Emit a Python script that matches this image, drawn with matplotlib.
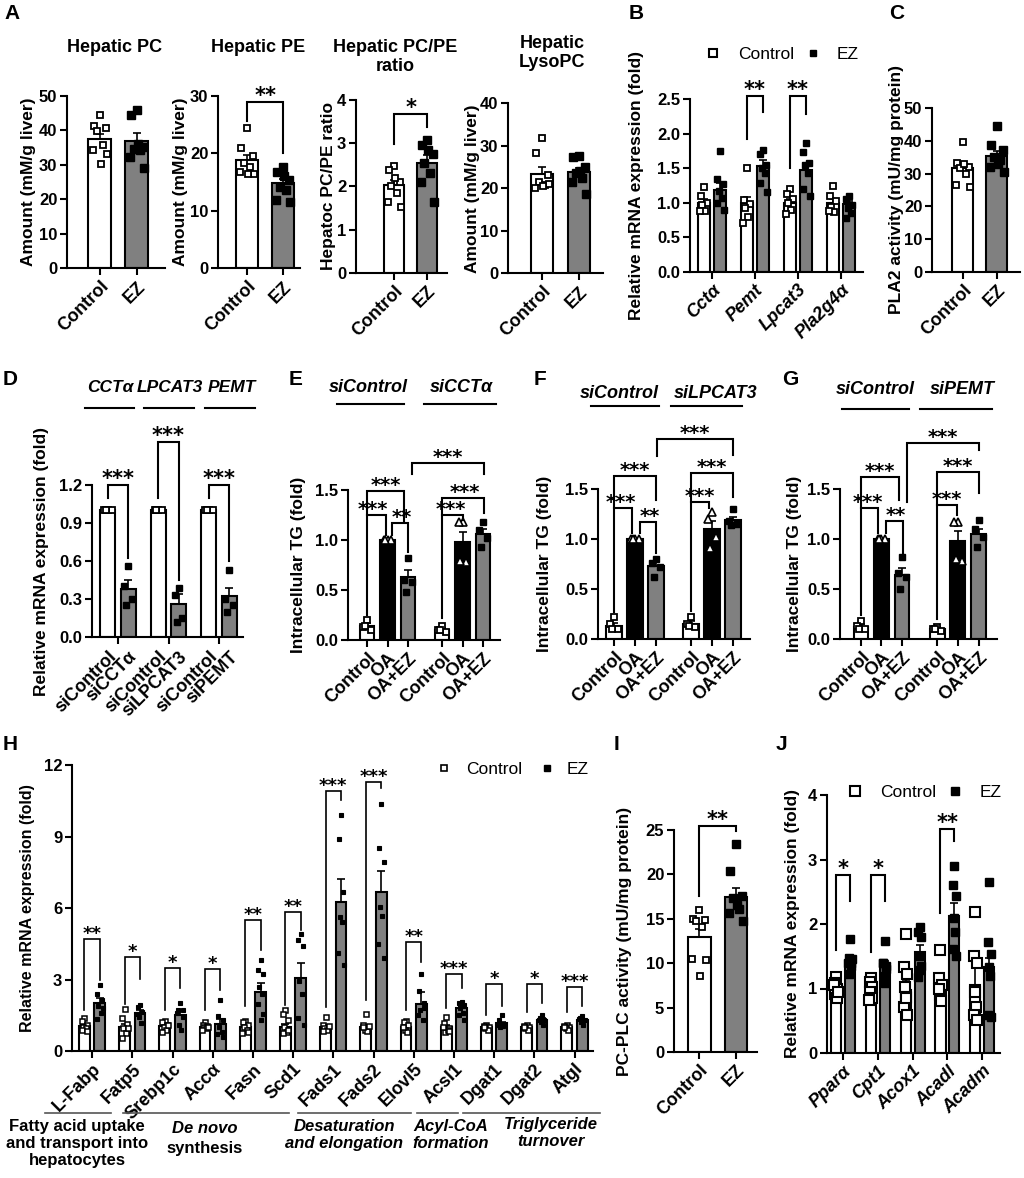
import numpy as np
import matplotlib
matplotlib.use('Agg')
import matplotlib.pyplot as plt
from matplotlib.lines import Line2D

# ====================== DATA ======================
grp2 = ['Control', 'EZ']

# Panel A
pc_ctrl = [44.6, 41.2, 40.6, 39.7, 35.8, 34.3, 33.3, 30.2]
pc_ez = [45.9, 44.4, 35.3, 34.6, 34.3, 32.4, 29.0, 36.0]
pc_mean = [37.5, 36.8]
pc_err = [1.6, 2.4]

pe_ctrl = [24.5, 20.9, 19.5, 18.3, 17.7, 16.8, 16.5, 16.4]
pe_ez = [17.7, 16.8, 15.4, 14.2, 13.6, 11.9, 11.6, 16.0]
pe_mean = [18.8, 14.8]
pe_err = [0.9, 0.8]

ratio_ctrl = [2.46, 2.38, 2.11, 2.0, 1.84, 1.64, 1.53, 2.2]
ratio_ez = [3.07, 2.96, 2.76, 2.53, 2.3, 2.1, 1.64, 2.85]
ratio_mean = [2.02, 2.55]
ratio_err = [0.12, 0.18]

lyso_ctrl = [31.9, 28.4, 23.1, 21.6, 20.8, 20.0, 21.0, 20.5]
lyso_ez = [27.6, 27.4, 25.1, 23.5, 22.4, 21.5, 18.7, 24.0]
lyso_mean = [23.4, 23.8]
lyso_err = [1.5, 1.0]

A_titles = ['Hepatic PC', 'Hepatic PE', 'Hepatic PC/PE\nratio', 'Hepatic\nLysoPC']
A_ylabels = ['Amount (mM/g liver)', 'Amount (mM/g liver)', 'Hepatoc PC/PE ratio', 'Amount (mM/g liver)']

# Panel B
B_genes = ['Cct\u03b1', 'Pemt', 'Lpcat3', 'Pla2g4\u03b1']
B_ctrl_mean = [1.0, 1.0, 1.0, 1.0]
B_ctrl_err = [0.05, 0.08, 0.05, 0.05]
B_ez_mean = [1.18, 1.54, 1.47, 0.98]
B_ez_err = [0.1, 0.08, 0.11, 0.05]
B_ctrl_pts = [[1.23, 1.1, 1.0, 0.97, 0.88, 0.88],
              [1.5, 1.04, 0.98, 0.92, 0.8, 0.71],
              [1.2, 1.12, 1.05, 1.0, 0.9, 0.84],
              [1.24, 1.1, 1.03, 0.94, 0.86, 0.88]]
B_ez_pts = [[1.75, 1.34, 1.27, 1.17, 1.07, 1.0, 0.9],
            [1.76, 1.7, 1.55, 1.5, 1.43, 1.29, 1.15],
            [1.87, 1.74, 1.58, 1.55, 1.43, 1.2, 1.1],
            [1.1, 1.05, 0.97, 0.92, 0.85, 0.78]]

# Panel C
pla2_ctrl = [39.7, 33.2, 32.1, 31.6, 30.0, 26.5, 26.0, 33.0]
pla2_ez = [44.5, 38.7, 37.1, 35.2, 34.2, 32.1, 30.6, 33.0]
pla2_mean = [31.8, 35.5]
pla2_err = [1.4, 1.5]

# Panel D
D_genes = ['CCT\u03b1', 'LPCAT3', 'PEMT']
D_labels = ['siControl', 'siCCT\u03b1', 'siControl', 'siLPCAT3', 'siControl', 'siPEMT']
D_ctrl_mean = [1.0, 1.0, 1.0]
D_kd_mean = [0.38, 0.26, 0.32]
D_kd_err = [0.07, 0.08, 0.07]
D_ctrl_pts = [[1.0, 1.0, 1.0, 1.0]] * 3
D_kd_pts = [[0.56, 0.40, 0.30, 0.25], [0.39, 0.33, 0.15, 0.12], [0.53, 0.30, 0.25, 0.20]]

# Panels E/F/G
TG_labels = ['Control', 'OA', 'OA+EZ', 'Control', 'OA', 'OA+EZ']
E_si = ['siControl', 'siCCT\u03b1']
E_mean = [0.14, 1.0, 0.63, 0.1, 0.98, 1.06]
E_err = [0.03, 0.0, 0.07, 0.02, 0.1, 0.05]
E_pts = [[0.2, 0.13, 0.1, 0.14], [1.0, 1.0, 1.0, 1.0], [0.82, 0.6, 0.58, 0.48],
         [0.14, 0.1, 0.08, 0.1], [1.18, 1.18, 0.78, 0.79], [1.18, 1.1, 1.02, 0.93]]
F_si = ['siControl', 'siLPCAT3']
F_mean = [0.13, 1.0, 0.73, 0.15, 1.1, 1.19]
F_err = [0.03, 0.0, 0.05, 0.03, 0.08, 0.03]
F_pts = [[0.22, 0.15, 0.1, 0.1], [1.0, 1.0, 1.0, 1.0], [0.8, 0.76, 0.72, 0.62],
         [0.22, 0.15, 0.12, 0.13], [1.27, 1.2, 1.02, 0.91], [1.3, 1.18, 1.15, 1.14]]
G_si = ['siControl', 'siPEMT']
G_mean = [0.12, 1.0, 0.64, 0.1, 0.98, 1.05]
G_err = [0.03, 0.0, 0.07, 0.02, 0.1, 0.05]
G_pts = [[0.18, 0.13, 0.1, 0.1], [1.0, 1.0, 1.0, 1.0], [0.82, 0.66, 0.62, 0.5],
         [0.12, 0.1, 0.08, 0.1], [1.17, 1.17, 0.78, 0.8], [1.19, 1.1, 1.02, 0.92]]

# Panel H
H_genes = ['L-Fabp', 'Fatp5', 'Srebp1c', 'Acc\u03b1', 'Fasn', 'Scd1', 'Fads1', 'Fads2',
           'Elovl5', 'Acsl1', 'Dgat1', 'Dgat2', 'Atgl']
H_ctrl_mean = [1.05, 1.0, 1.05, 1.02, 1.0, 1.02, 1.0, 1.0, 1.0, 1.0, 1.0, 1.0, 1.0]
H_ctrl_err = [0.08, 0.15, 0.06, 0.05, 0.07, 0.13, 0.07, 0.08, 0.06, 0.08, 0.03, 0.03, 0.03]
H_ez_mean = [2.0, 1.6, 1.5, 1.15, 2.48, 3.07, 6.27, 6.66, 1.99, 1.8, 1.16, 1.3, 1.3]
H_ez_err = [0.22, 0.12, 0.16, 0.2, 0.39, 0.61, 0.93, 0.9, 0.5, 0.1, 0.06, 0.07, 0.05]
H_ctrl_pts = [[1.4, 1.25, 1.1, 1.0, 0.95, 0.9, 0.85], [1.75, 1.4, 1.12, 0.98, 0.77, 0.56, 0.95],
              [1.25, 1.2, 1.1, 1.0, 0.9, 0.8, 1.1], [1.2, 1.1, 1.05, 1.0, 0.95, 0.9, 1.0],
              [1.25, 1.2, 1.1, 1.0, 0.9, 0.75, 0.8], [1.7, 1.57, 1.29, 1.0, 0.8, 0.75, 0.9],
              [1.42, 1.1, 1.0, 0.95, 0.9, 0.85, 1.05], [1.56, 1.1, 0.95, 0.9, 0.85, 1.0, 1.05],
              [1.27, 1.2, 1.1, 0.87, 0.8, 1.0], [1.44, 1.16, 0.95, 0.8, 0.9, 1.0, 0.85],
              [1.1, 1.05, 1.0, 0.95, 0.9, 1.0], [1.1, 1.05, 1.0, 0.95, 0.9, 1.0],
              [1.1, 1.05, 1.0, 0.95, 0.9, 1.0]]
H_ez_pts = [[2.77, 2.4, 2.15, 1.9, 1.6, 1.33, 1.8], [1.93, 1.86, 1.65, 1.44, 1.16, 1.55],
            [2.0, 1.7, 1.44, 1.1, 0.9, 1.6, 1.7], [2.15, 1.45, 1.3, 1.0, 0.8, 0.7, 0.6],
            [3.83, 3.38, 3.24, 2.68, 2.4, 1.98, 1.56, 1.29], [4.92, 4.64, 4.4, 2.94, 2.38, 1.4, 1.1],
            [9.9, 8.88, 6.69, 5.64, 5.43, 4.1, 3.61], [10.35, 8.53, 7.95, 6.06, 5.67, 4.48, 3.89],
            [3.22, 2.53, 2.0, 1.72, 1.3, 1.5, 1.8], [2.05, 2.0, 1.95, 1.8, 1.6, 1.5, 1.3],
            [1.5, 1.3, 1.1, 1.0, 1.05, 1.1], [1.5, 1.4, 1.3, 1.2, 1.1, 1.3],
            [1.45, 1.4, 1.3, 1.2, 1.1, 1.35]]
H_sig_top = [4.7, 3.96, 3.47, 3.43, 5.5, 5.85, 10.91, 11.3, 4.59, 3.24, 2.8, 2.8, 2.7]
H_sig_left = [1.72, 1.98, 1.73, 1.73, 1.87, 1.94, 1.86, 2.14, 1.7, 1.79, 1.5, 1.65, 1.65]
H_sig_right = [2.98, 3.02, 2.64, 2.57, 4.24, 5.08, 10.53, 11.02, 3.75, 2.63, 1.89, 2.0, 1.89]
H_sig_txt = ['**', '*', '*', '*', '**', '**', '***', '***', '**', '***', '*', '*', '***']
H_groups = ['Fatty acid uptake\nand transport into\nhepatocytes', 'De novo', 'Desaturation\nand elongation',
            'Acyl-CoA\nformation', 'Triglyceride\nturnover']

# Panel I
plc_ctrl = [16.0, 15.0, 14.9, 14.8, 14.1, 10.5, 10.4, 8.6]
plc_ez = [23.4, 20.4, 17.6, 17.3, 16.1, 15.6, 14.7, 16.6]
plc_mean = [12.9, 17.4]
plc_err = [1.0, 1.1]

# Panel J
J_genes = ['Ppar\u03b1', 'Cpt1', 'Acox1', 'Acadl', 'Acadm']
J_ctrl_mean = [1.0, 1.0, 0.98, 1.0, 1.05]
J_ctrl_err = [0.05, 0.05, 0.15, 0.1, 0.3]
J_ez_mean = [1.43, 1.38, 1.57, 2.12, 1.34]
J_ez_err = [0.05, 0.05, 0.1, 0.21, 0.13]
J_ctrl_pts = [[1.18, 1.08, 1.0, 0.92, 0.85, 1.05, 0.95], [1.16, 1.1, 1.03, 0.95, 0.85, 0.82],
              [1.85, 1.34, 1.23, 1.03, 0.87, 0.72, 0.59, 0.85], [1.6, 1.16, 1.05, 0.9, 0.8, 1.0],
              [2.19, 1.5, 1.39, 0.95, 0.72, 0.59, 0.51]]
J_ez_pts = [[1.77, 1.47, 1.39, 1.23, 1.35, 1.4, 1.45], [1.74, 1.39, 1.3, 1.2, 1.08, 1.4, 1.35],
            [1.96, 1.88, 1.8, 1.5, 1.29, 1.18, 1.35], [2.9, 2.6, 2.43, 2.09, 1.88, 1.62, 1.5],
            [2.65, 1.72, 1.54, 1.34, 1.2, 0.59, 0.56]]

# ====================== STYLE / LAYOUT ======================
W, H = 1024, 1178
plt.rcParams['font.family'] = ['Liberation Sans', 'DejaVu Sans']
plt.rcParams['font.weight'] = 'bold'
plt.rcParams['axes.labelweight'] = 'bold'
GREY = '#808080'
LW = 1.5
TICK_FS = 12
XT_FS = 13
LAB_FS = 12.5
STAR_FS = 15
JIT = [0.0, -0.75, 0.75, -0.4, 0.4, -0.9, 0.9, 0.15, -0.15, 0.6]

fig = plt.figure(figsize=(W / 100, H / 100), dpi=100)


def P(x, y):
    return x / W, 1 - y / H


def make_ax(l, r, b, t, xlim, ylim, yticks, yfmt=None):
    ax = fig.add_axes([l / W, 1 - b / H, (r - l) / W, (b - t) / H])
    ax.set_xlim(*xlim)
    ax.set_ylim(*ylim)
    for s in ['top', 'right']:
        ax.spines[s].set_visible(False)
    for s in ['left', 'bottom']:
        ax.spines[s].set_linewidth(LW)
    ax.tick_params(axis='both', direction='out', length=5, width=LW, labelsize=TICK_FS, pad=2)
    ax.set_yticks(yticks)
    if yfmt:
        ax.set_yticklabels([yfmt.format(v) for v in yticks])
    ax.patch.set_alpha(0)
    return ax


def bar(ax, x, mean, err, width, face):
    ax.bar(x, mean, width, color=face, edgecolor='black', linewidth=LW, zorder=2)
    if err > 0:
        ax.errorbar(x, mean, yerr=[[0], [err]], fmt='none', ecolor='black', elinewidth=1.2,
                    capsize=3, capthick=1.2, zorder=3)


def pts(ax, x, vals, marker, mfc, ms, mew, spread):
    offs = np.array(JIT[:len(vals)]) * spread
    ax.plot(x + offs, vals, ls='none', marker=marker, mfc=mfc, mec='black', ms=ms, mew=mew,
            zorder=4, clip_on=False)


def bracket(ax, x1, x2, top, e1, e2, txt, fs=STAR_FS, lw=LW, tx=None):
    ax.plot([x1, x1, x2, x2], [e1, top, top, e2], color='black', lw=lw, clip_on=False, zorder=5,
            solid_joinstyle='miter')
    if tx is None:
        tx = (x1 + x2) / 2
    ax.text(tx, top, txt, ha='center', va='baseline', fontsize=fs,
            family='DejaVu Sans', fontweight='bold', clip_on=False)


def xlabels(ax, pos, labels, style='normal', fs=XT_FS):
    ax.set_xticks(pos)
    ax.set_xticklabels(labels, rotation=45, ha='right', va='top', rotation_mode='anchor',
                       fontsize=fs, fontstyle=style)


def ftext(x, y, s, **kw):
    kw.setdefault('ha', 'center')
    kw.setdefault('va', 'center')
    kw.setdefault('fontweight', 'bold')
    fig.text(*P(x, y), s, **kw)


def fline(x1, x2, y, color='black', lw=1.5):
    fig.add_artist(Line2D([x1 / W, x2 / W], [1 - y / H] * 2, transform=fig.transFigure,
                          color=color, lw=lw))


def fmark(x, y, mfc, ms, mew):
    fig.add_artist(Line2D([x / W], [1 - y / H], transform=fig.transFigure, marker='s', ls='none',
                          mfc=mfc, mec='black', ms=ms, mew=mew))


def two_group(l, r, b, t, xlim, ylim, yticks, ctrl, ez, mean, err, ylab, ylab_x, width=0.62):
    ax = make_ax(l, r, b, t, xlim, ylim, yticks)
    bar(ax, 0, mean[0], err[0], width, 'white')
    bar(ax, 1, mean[1], err[1], width, GREY)
    pts(ax, 0, ctrl, 's', 'white', 4.8, 1.3, 0.22)
    pts(ax, 1, ez, 's', 'black', 5.5, 1.0, 0.22)
    xlabels(ax, [0, 1], grp2)
    ftext(ylab_x, (b + t) / 2, ylab, rotation=90, fontsize=LAB_FS)
    return ax


# ---------------- Panel A ----------------
ftext(4, 4, 'A', ha='left', va='top', fontsize=15)
A_data = [(pc_ctrl, pc_ez, pc_mean, pc_err), (pe_ctrl, pe_ez, pe_mean, pe_err),
          (ratio_ctrl, ratio_ez, ratio_mean, ratio_err), (lyso_ctrl, lyso_ez, lyso_mean, lyso_err)]
A_lay = [dict(l=67, r=165, b=268.3, t=96, xlim=(-0.89, 1.76), ylim=(0, 50), yt=[0, 10, 20, 30, 40, 50], yl=29, tt=(115, 47)),
         dict(l=218, r=300, b=268.3, t=96, xlim=(-0.81, 1.47), ylim=(0, 30), yt=[0, 10, 20, 30], yl=181, tt=(258, 47)),
         dict(l=356, r=447, b=272.7, t=100, xlim=(-1.15, 1.6), ylim=(0, 4), yt=[0, 1, 2, 3, 4], yl=328, tt=(395, 57)),
         dict(l=508, r=603, b=273.3, t=103.3, xlim=(-0.92, 1.65), ylim=(0, 40), yt=[0, 10, 20, 30, 40], yl=473, tt=(552, 53))]
A_axes = []
for (c, e, m, er), lay, title, ylab in zip(A_data, A_lay, A_titles, A_ylabels):
    ax = two_group(lay['l'], lay['r'], lay['b'], lay['t'], lay['xlim'], lay['ylim'], lay['yt'],
                   c, e, m, er, ylab, lay['yl'])
    ftext(*lay['tt'], title, fontsize=13)
    A_axes.append(ax)
bracket(A_axes[1], 0, 1, 29.0, 25.6, 20.0, '**')
bracket(A_axes[2], 0, 1, 3.68, 2.99, 3.38, '*')

# ---------------- Panel B ----------------
ftext(629, 4, 'B', ha='left', va='top', fontsize=15)
axB = make_ax(690, 863, 271.7, 99.3, (-0.51, 3.51), (0, 2.5), [0, 0.5, 1.0, 1.5, 2.0, 2.5], '{:.1f}')
off, bw = 0.19, 0.28
for i in range(len(B_genes)):
    bar(axB, i - off, B_ctrl_mean[i], B_ctrl_err[i], bw, 'white')
    bar(axB, i + off, B_ez_mean[i], B_ez_err[i], bw, GREY)
    pts(axB, i - off, B_ctrl_pts[i], 's', 'white', 4.5, 1.3, 0.09)
    pts(axB, i + off, B_ez_pts[i], 's', 'black', 4.5, 1.0, 0.09)
xlabels(axB, range(len(B_genes)), B_genes, style='italic')
bracket(axB, 1 - off, 1 + off, 2.55, 1.93, 2.32, '**')
bracket(axB, 2 - off, 2 + off, 2.55, 1.5, 2.29, '**')
ftext(637, 185.5, 'Relative mRNA expression (fold)', rotation=90, fontsize=LAB_FS)
fmark(713, 53, 'white', 5.5, 1.5)
ftext(738, 53, 'Control', ha='left', va='center_baseline', fontsize=12.5, fontweight='normal')
fmark(813, 53, 'black', 5, 1.0)
ftext(837, 53, 'EZ', ha='left', va='center_baseline', fontsize=12.5, fontweight='normal')

# ---------------- Panel C ----------------
ftext(889, 4, 'C', ha='left', va='top', fontsize=15)
two_group(932, 1020, 271.7, 108.3, (-0.91, 1.68), (0, 50), [0, 10, 20, 30, 40, 50],
          pla2_ctrl, pla2_ez, pla2_mean, pla2_err, 'PLA2 activity (mU/mg protein)', 896)

# ---------------- Panel D ----------------
ftext(3, 370, 'D', ha='left', va='top', fontsize=15)
axD = make_ax(92, 243, 637, 485, (-0.515, 2.475), (0, 1.2), [0, 0.3, 0.6, 0.9, 1.2], '{:.1f}')
off, bw = 0.2, 0.3
bar_pos = []
for i in range(3):
    bar(axD, i - off, D_ctrl_mean[i], 0, bw, 'white')
    bar(axD, i + off, D_kd_mean[i], D_kd_err[i], bw, GREY)
    pts(axD, i - off, D_ctrl_pts[i], 's', 'white', 5.0, 1.3, 0.1)
    pts(axD, i + off, D_kd_pts[i], 's', 'black', 4.8, 1.0, 0.1)
    bar_pos += [i - off, i + off]
axD.set_xticks([0, 1, 2])
axD.set_xticklabels([])
axD.set_xticks(bar_pos, minor=True)
axD.set_xticklabels(D_labels, minor=True, rotation=45, ha='right', va='top', rotation_mode='anchor',
                    fontsize=XT_FS)
axD.tick_params(axis='x', which='minor', length=0, pad=8)
for i, (top, er) in enumerate(zip([1.2, 1.54, 1.2], [0.62, 0.45, 0.6])):
    bracket(axD, i - off, i + off, top, 1.1, er, '***')
for name, cx, (x1, x2) in zip(D_genes, [110, 170, 232], [(85, 134), (144, 194), (205, 255)]):
    ftext(cx, 387, name, fontsize=12.5, fontstyle='italic')
    fline(x1, x2, 408)
ftext(42, 561, 'Relative mRNA expression (fold)', rotation=90, fontsize=LAB_FS)


# ---------------- Panels E/F/G ----------------
def tg_panel(l, r, b, t, xlim, xpos, mean, err, ptsl, brs, ylab_x):
    ax = make_ax(l, r, b, t, xlim, (0, 1.5), [0, 0.5, 1.0, 1.5], '{:.1f}')
    faces = ['white', 'black', GREY] * 2
    mk = [('s', 'white', 5.0, 1.3), ('^', 'white', 5.2, 1.2), ('s', 'black', 4.8, 1.0)] * 2
    for k in range(6):
        bar(ax, xpos[k], mean[k], err[k], 0.72, faces[k])
        m, fc, ms, mew = mk[k]
        pts(ax, xpos[k], ptsl[k], m, fc, ms, mew, 0.25)
    xlabels(ax, xpos, TG_labels)
    for br in brs:
        x1, x2, top, e1, e2, txt = br[:6]
        tx = br[6] if len(br) > 6 else None
        bracket(ax, x1, x2, top, e1, e2, txt, fs=14, tx=tx)
    ftext(ylab_x, (b + t) / 2, 'Intracellular TG (fold)', rotation=90, fontsize=LAB_FS)
    return ax


ftext(289, 370, 'E', ha='left', va='top', fontsize=15)
E_pos = [0, 1, 2, 3.66, 4.66, 5.66]
tg_panel(348, 500, 640, 490, (-0.93, 6.49), E_pos, E_mean, E_err, E_pts,
         [(0, 0.92, 1.25, 0.25, 1.05, '***', 0.3), (1.22, 2.0, 1.17, 1.05, 0.88, '**', 1.68),
          (0, 1.82, 1.49, 1.25, 1.18, '***'), (2.2, 5.7, 1.77, 1.66, 1.66, '***'),
          (3.66, 4.66, 1.25, 0.22, 1.2, '***', 4.1), (3.66, 5.7, 1.42, 1.25, 1.27, '***', 4.75)], 299)
for name, cx, (x1, x2) in zip(E_si, [368, 461], [(337, 404), (424, 496)]):
    ftext(cx, 388, name, fontsize=13, fontstyle='italic')
    fline(x1, x2, 404)

ftext(534, 370, 'F', ha='left', va='top', fontsize=15)
F_pos = [0, 1, 2, 3.67, 4.67, 5.67]
tg_panel(598, 750, 639, 489, (-0.76, 6.48), F_pos, F_mean, F_err, F_pts,
         [(0, 0.86, 1.31, 0.27, 1.06, '***', 0.35), (1.24, 2.0, 1.17, 1.06, 0.86, '**', 1.7),
          (0, 2.0, 1.63, 1.31, 1.39, '***'), (2.05, 5.67, 2.0, 1.83, 1.84, '***'),
          (3.67, 4.52, 1.37, 0.28, 1.31, '***'), (3.67, 5.67, 1.66, 1.37, 1.42, '***')], 545)
for name, cx, (x1, x2) in zip(F_si, [619, 716], [(591, 659), (671, 742)]):
    ftext(cx, 394, name, fontsize=13, fontstyle='italic')
    fline(x1, x2, 406)

ftext(782, 370, 'G', ha='left', va='top', fontsize=15)
G_pos = [0, 1, 2, 3.72, 4.72, 5.74]
tg_panel(840, 997, 639, 489, (-1.02, 6.63), G_pos, G_mean, G_err, G_pts,
         [(0, 0.83, 1.31, 0.24, 1.06, '***', 0.33), (1.22, 2.05, 1.18, 1.06, 0.86, '**', 1.72),
          (0, 1.85, 1.62, 1.31, 1.39, '***'), (2.24, 5.76, 1.96, 1.37, 1.89, '***'),
          (3.72, 4.68, 1.34, 0.2, 1.24, '***'), (3.72, 5.76, 1.67, 1.34, 1.46, '***')], 794)
for name, cx, (x1, x2) in zip(G_si, [875, 962], [(842, 909), (920, 992)]):
    ftext(cx, 390, name, fontsize=13, fontstyle='italic')
    fline(x1, x2, 409)

# ---------------- Panel H ----------------
ftext(3, 735, 'H', ha='left', va='top', fontsize=15)
axH = make_ax(72, 593, 1051, 765, (-0.5, 12.46), (0, 12), [0, 3, 6, 9, 12])
off, bw = 0.19, 0.27
for i in range(len(H_genes)):
    bar(axH, i - off, H_ctrl_mean[i], H_ctrl_err[i], bw, 'white')
    bar(axH, i + off, H_ez_mean[i], H_ez_err[i], bw, GREY)
    pts(axH, i - off, H_ctrl_pts[i], 's', 'white', 3.6, 1.1, 0.08)
    pts(axH, i + off, H_ez_pts[i], 's', 'black', 3.4, 0.8, 0.08)
    bracket(axH, i - off, i + off, H_sig_top[i], H_sig_left[i], H_sig_right[i], H_sig_txt[i],
            fs=13, lw=1.2)
xlabels(axH, range(len(H_genes)), H_genes, style='normal')
ftext(28, 908, 'Relative mRNA expression (fold)', rotation=90, fontsize=11.5)
fmark(444, 768, 'white', 4.2, 1.2)
ftext(466, 768, 'Control', ha='left', va='center_baseline', fontsize=12.5, fontweight='normal')
fmark(547, 768, 'black', 3.8, 1.0)
ftext(567, 768, 'EZ', ha='left', va='center_baseline', fontsize=12.5, fontweight='normal')
for (x1, x2) in [(45, 111), (123, 289), (298, 411), (417, 458), (463, 600)]:
    fline(x1, x2, 1113, color='#555555', lw=1.2)
ftext(77, 1119, H_groups[0], va='top', fontsize=12, linespacing=1.15)
ftext(205, 1127, H_groups[1], va='center_baseline', fontsize=12, fontstyle='italic')
ftext(205, 1147, 'synthesis', va='center_baseline', fontsize=12)
ftext(344, 1119, H_groups[2], va='top', fontsize=12, fontstyle='italic', linespacing=1.15)
ftext(451, 1119, H_groups[3], va='top', fontsize=12, fontstyle='italic', linespacing=1.15)
ftext(551, 1117, H_groups[4], va='top', fontsize=12, fontstyle='italic', linespacing=1.15)

# ---------------- Panel I ----------------
ftext(614, 735, 'I', ha='left', va='top', fontsize=15)
axI = two_group(674, 757, 1052, 830, (-0.68, 1.57), (0, 25), [0, 5, 10, 15, 20, 25],
                plc_ctrl, plc_ez, plc_mean, plc_err, 'PC-PLC activity (mU/mg protein)', 624)
bracket(axI, 0, 1, 25.4, 17.6, 24.9, '**')

# ---------------- Panel J ----------------
ftext(776, 735, 'J', ha='left', va='top', fontsize=15)
axJ = make_ax(827, 1000, 1053, 795, (-0.46, 4.51), (0, 4), [0, 1, 2, 3, 4])
off, bw = 0.2, 0.29
for i in range(len(J_genes)):
    bar(axJ, i - off, J_ctrl_mean[i], J_ctrl_err[i], bw, 'white')
    bar(axJ, i + off, J_ez_mean[i], J_ez_err[i], bw, GREY)
    pts(axJ, i - off, J_ctrl_pts[i], 's', 'white', 6.8, 1.5, 0.05)
    pts(axJ, i + off, J_ez_pts[i], 's', 'black', 6.0, 1.0, 0.05)
xlabels(axJ, range(len(J_genes)), J_genes, style='italic')
bracket(axJ, 0 - off, 0 + off, 2.76, 1.6, 2.35, '*')
bracket(axJ, 1 - off, 1 + off, 2.76, 1.57, 2.35, '*')
bracket(axJ, 3 - off, 3 + off, 3.47, 2.17, 3.29, '**')
ftext(793, 924, 'Relative mRNA expression (fold)', rotation=90, fontsize=LAB_FS)
fmark(855, 791, 'white', 6.5, 1.5)
ftext(880, 791, 'Control', ha='left', va='center_baseline', fontsize=12.5, fontweight='normal')
fmark(955, 791, 'black', 5.8, 1.0)
ftext(980, 791, 'EZ', ha='left', va='center_baseline', fontsize=12.5, fontweight='normal')

fig.savefig('out.png', dpi=100, facecolor='white')
